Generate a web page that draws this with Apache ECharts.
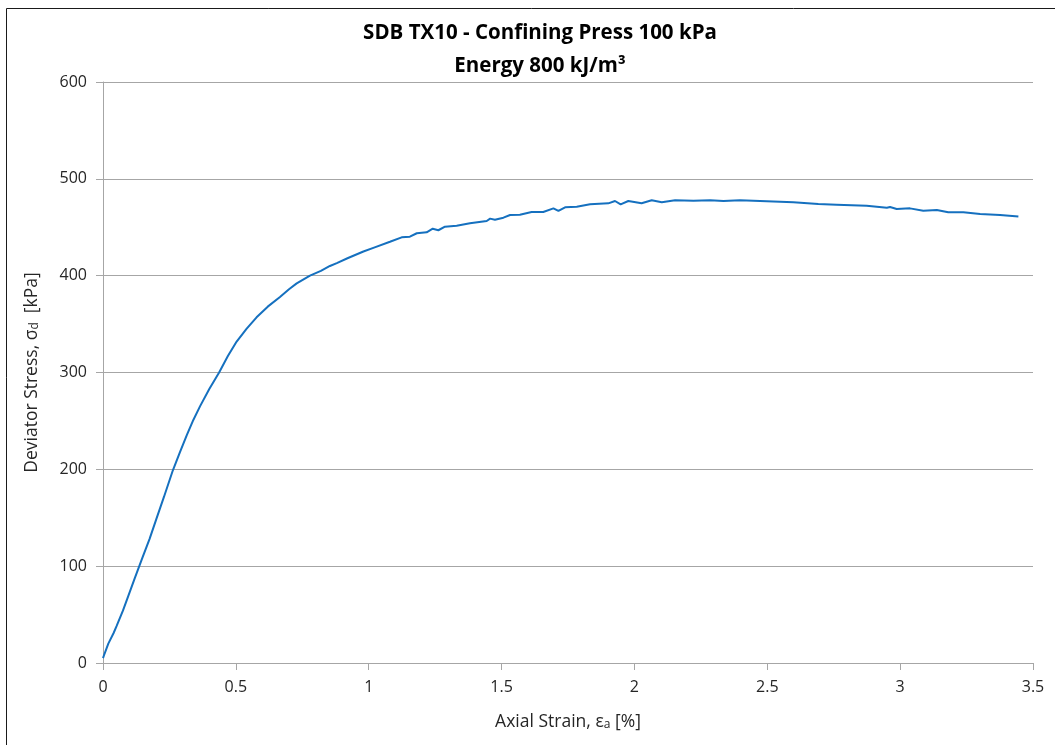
<!DOCTYPE html>
<html>
<head>
<meta charset="utf-8">
<script src="https://cdn.jsdelivr.net/npm/echarts@6/dist/echarts.min.js"></script>
<style>
  html, body { margin: 0; padding: 0; background: #fff; }
  #chart { width: 1055px; height: 745px; }
</style>
</head>
<body>
<div id="chart"></div>
<script>
// Axial strain [%] readings
const strain = [
  0, 0.005, 0.02, 0.04, 0.051, 0.075, 0.095, 0.12, 0.146, 0.175, 0.2, 0.23, 0.263,
  0.29, 0.315, 0.34, 0.365, 0.4, 0.437, 0.47, 0.503, 0.54, 0.578, 0.62, 0.666, 0.7,
  0.729, 0.779, 0.82, 0.854, 0.88, 0.92, 0.98, 1.02, 1.08, 1.124, 1.155, 1.181,
  1.218, 1.241, 1.262, 1.287, 1.331, 1.381, 1.444, 1.457, 1.475, 1.507, 1.532,
  1.569, 1.613, 1.657, 1.695, 1.714, 1.739, 1.783, 1.833, 1.902, 1.927, 1.948,
  1.977, 2.027, 2.065, 2.103, 2.153, 2.222, 2.285, 2.335, 2.397, 2.498, 2.598,
  2.692, 2.761, 2.874, 2.95, 2.962, 2.987, 3.037, 3.087, 3.138, 3.181, 3.238,
  3.301, 3.376, 3.445
];
// Deviator stress [kPa] at each strain reading
const stress = [
  5, 9, 20, 31, 38, 54, 69, 88, 107, 128, 148, 172, 199,
  218, 235, 251, 265, 283, 300, 317, 332, 345, 357, 368, 378, 386,
  392, 400, 405, 410, 413, 418, 425, 429, 435, 439.6, 440.3, 443.8,
  444.8, 448.5, 446.9, 450.6, 451.6, 454.1, 456.5, 458.9, 457.8, 459.9, 462.7,
  463, 465.8, 465.8, 469.5, 466.8, 470.6, 471.2, 473.7, 474.7, 477.1, 473.7,
  477.1, 474.7, 477.8, 475.8, 477.8, 477.4, 477.8, 477.1, 477.8, 476.8, 475.8,
  474.0, 473.3, 472.2, 470.2, 470.9, 468.9, 469.5, 467.1, 467.8, 465.4, 465.4,
  463.7, 462.7, 461
];

const titleLines = ['SDB TX10 - Confining Press 100 kPa', 'Energy 800 kJ/m³'];

const points = strain.map((s, i) => [s, stress[i]]);

const FONT = '"Open Sans", "Noto Sans", sans-serif';
const TEXT = '#262626';
const chart = echarts.init(document.getElementById('chart'));

const nameRich = {
  a: { fontFamily: FONT, fontSize: 17.5, color: TEXT, verticalAlign: 'bottom', lineHeight: 24 },
  s: { fontFamily: FONT, fontSize: 12, color: TEXT, verticalAlign: 'bottom', lineHeight: 18 }
};

chart.setOption({
  animation: false,
  backgroundColor: '#ffffff',
  title: {
    text: titleLines.join('\n'),
    left: 535,
    textAlign: 'center',
    top: 12,
    textStyle: {
      fontFamily: FONT,
      fontSize: 20.5,
      fontWeight: 'bold',
      color: '#000',
      lineHeight: 33
    }
  },
  grid: { left: 103, right: 22, top: 82, bottom: 82, containLabel: false },
  xAxis: {
    type: 'value',
    min: 0,
    max: 3.5,
    interval: 0.5,
    name: '{a|Axial Strain, ε}{s|a}{a| [%]}',
    nameLocation: 'middle',
    nameGap: 44,
    nameTextStyle: { rich: nameRich },
    axisLine: { show: true, onZero: false, lineStyle: { color: '#a6a6a6', width: 1 } },
    axisTick: { show: true, inside: false, length: 7, lineStyle: { color: '#a6a6a6' } },
    splitLine: { show: false },
    axisLabel: { fontFamily: FONT, fontSize: 16, color: TEXT, margin: 16 }
  },
  yAxis: {
    type: 'value',
    min: 0,
    max: 600,
    interval: 100,
    name: '{a|Deviator Stress, σ}{s|d}{a|  [kPa]}',
    nameLocation: 'middle',
    nameGap: 62,
    nameTextStyle: { rich: nameRich },
    axisLine: { show: true, lineStyle: { color: '#a6a6a6', width: 1 } },
    axisTick: { show: true, inside: false, length: 7, lineStyle: { color: '#a6a6a6' } },
    splitLine: { show: true, lineStyle: { color: '#a6a6a6', width: 1 } },
    axisLabel: { fontFamily: FONT, fontSize: 16, color: TEXT, margin: 16 }
  },
  series: [{
    type: 'line',
    data: points,
    showSymbol: false,
    smooth: false,
    lineStyle: { color: '#1570bf', width: 2 },
    z: 5
  }],
  graphic: [{
    type: 'rect',
    shape: { x: 6.5, y: 8.5, width: 1200, height: 900 },
    style: { fill: null, stroke: '#1a1a1a', lineWidth: 1 },
    silent: true
  }]
});
</script>
</body>
</html>
